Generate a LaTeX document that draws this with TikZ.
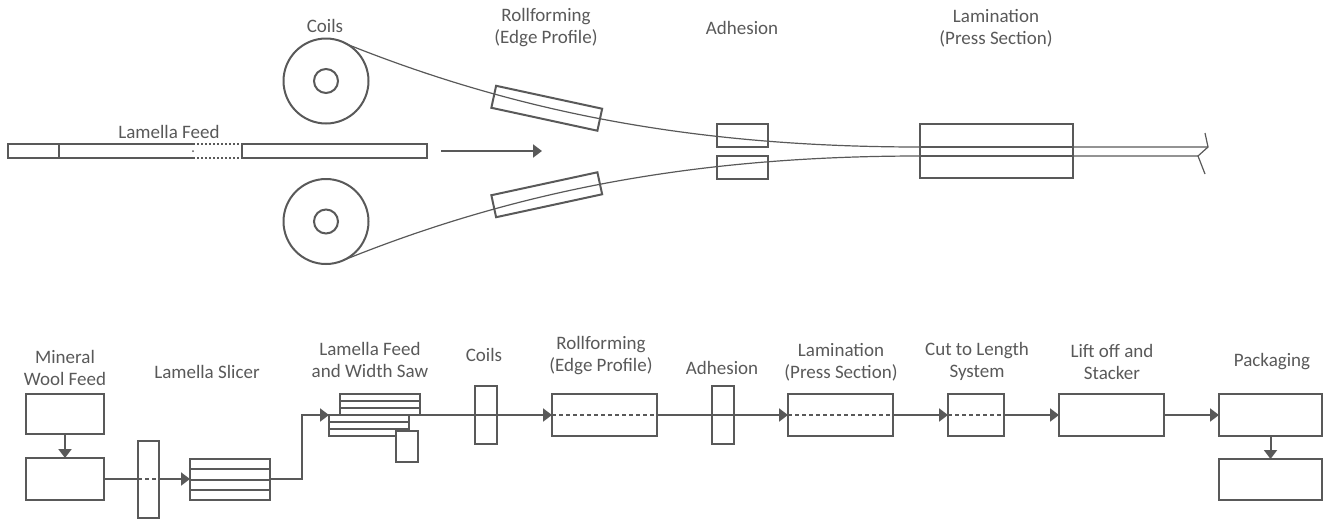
\documentclass[tikz,border=0pt]{standalone}
\usepackage{fontspec}
\setmainfont{Carlito}
\usetikzlibrary{arrows.meta,calc}
\definecolor{ink}{RGB}{89,89,89}
\begin{document}
\begin{tikzpicture}[x=1pt,y=-1pt,
  every node/.style={inner sep=0pt, outer sep=0pt},
  box/.style={draw=ink, line width=2pt, rectangle},
  lbl/.style={text=ink, font=\fontsize{19}{22}\selectfont, align=center},
  wire/.style={draw=ink, line width=2pt},
  strip/.style={draw=ink, line width=1.2pt},
  flow/.style={wire, -{Triangle[length=9pt,width=13pt]}},
  cutline/.style={draw=ink, line width=2pt, dash pattern=on 4pt off 3pt},
]
\useasboundingbox (0,0) rectangle (1324,520);

% ---------------- upper view: lamella feed between two coils ----------------
% coils
\node[circle, draw=ink, line width=2pt, minimum size=85pt] (coilA) at (326,81) {};
\node[circle, draw=ink, line width=2pt, minimum size=24pt] (hubA) at (326,81) {};
\node[circle, draw=ink, line width=2pt, minimum size=85pt] (coilB) at (326,221.5) {};
\node[circle, draw=ink, line width=2pt, minimum size=24pt] (hubB) at (326,221.5) {};
\node[lbl] (tCoils) at (325,26) {Coils};

% lamella feed bar
\draw[wire] (193,144) -- (8,144) -- (8,158) -- (193,158);
\draw[wire] (59,144) -- (59,158);
\draw[wire] (242,144) -- (427,144) -- (427,158) -- (242,158) -- cycle;
\draw[draw=ink, line width=1.2pt, dash pattern=on 2pt off 2pt] (193,144) -- (242,144) (193,158) -- (242,158);
\fill[ink] (193,151) circle (1pt);
\node[lbl] (tFeed) at (169,132) {Lamella Feed};

% feed direction
\coordinate (feedA) at (441,151);
\coordinate (feedB) at (542,151);
\draw[flow] (feedA) -- (feedB);

% sheet strips coming off the coils
\coordinate (stripA0) at (344,43);
\coordinate (stripB0) at (344,260);
\coordinate (stripA1) at (920,147);
\coordinate (stripB1) at (920,156);
\coordinate (stripA2) at (1208,147);
\coordinate (stripB2) at (1198,156);
\draw[strip] (stripA0) .. controls (520,114) and (700,147) .. (stripA1) -- (stripA2);
\draw[strip] (stripB0) .. controls (520,189) and (700,156) .. (stripB1) -- (stripB2);
\draw[strip] (1205,133) -- (stripA2) -- (stripB2) -- (1205,174);

% rollforming stations on the strips
\node[box, minimum width=108.5pt, minimum height=22.5pt, rotate=-12.2] (rfA) at (546.75,108.25) {};
\node[box, minimum width=108.5pt, minimum height=22.5pt, rotate=12.2] (rfB) at (546.75,194.75) {};
\node[lbl] (tRf) at (546,28) {Rollforming\\(Edge Profile)};

% adhesion
\node[box, minimum width=51pt, minimum height=23pt] (adA) at (742.5,135.5) {};
\node[box, minimum width=51pt, minimum height=23pt] (adB) at (742.5,167.5) {};
\node[lbl] (tAd) at (742,28) {Adhesion};

% lamination press
\node[box, minimum width=153pt, minimum height=54pt] (lam) at (996.5,151) {};
\draw[wire] (stripA1) -- (lam.east |- stripA1);
\draw[wire] (stripB1) -- (lam.east |- stripB1);
\node[lbl] (tLam) at (996,28) {Lamination\\(Press Section)};

% ---------------- lower view: process line ----------------
% mineral wool feed
\node[box, minimum width=78.6pt, minimum height=40pt] (mw1) at (65,414) {};
\node[box, minimum width=78.6pt, minimum height=42pt] (mw2) at (65,479) {};
\draw[flow] (mw1.south) -- (mw2.north);
\node[lbl] (tMw) at (65,367.5) {Mineral\\Wool Feed};

% lamella slicer
\node[box, minimum width=21pt, minimum height=77pt] (blade) at (148.5,479.5) {};
\node[box, minimum width=80pt, minimum height=41pt] (slc) at (230,479.5) {};
\foreach \f in {0.25,0.5,0.75}
  \draw[wire] ($(slc.north west)!\f!(slc.south west)$) -- ($(slc.north east)!\f!(slc.south east)$);
\draw[wire] (mw2.east) -- (blade.west |- mw2.east);
\draw[cutline] (blade.west |- mw2.east) -- (blade.east |- mw2.east);
\draw[flow] (blade.east |- mw2.east) -- (slc.west |- mw2.east);
\node[lbl] (tSlc) at (207,372) {Lamella Slicer};

% lamella feed and width saw
\node[box, minimum width=80pt, minimum height=21pt] (fdA) at (380,404.5) {};
\node[box, minimum width=80pt, minimum height=21pt] (fdB) at (369,425.5) {};
\foreach \f in {0.333,0.667} {
  \draw[wire] ($(fdA.north west)!\f!(fdA.south west)$) -- ($(fdA.north east)!\f!(fdA.south east)$);
  \draw[wire] ($(fdB.north west)!\f!(fdB.south west)$) -- ($(fdB.north east)!\f!(fdB.south east)$);
}
\node[box, fill=white, minimum width=22pt, minimum height=31pt] (saw) at (407,446.5) {};
\coordinate (elbow) at (302,479);
\draw[flow] (slc.east |- elbow) -- (elbow) |- (fdB.north west);
\node[lbl] (tFd) at (370,359.5) {Lamella Feed\\and Width Saw};

% coils
\node[box, minimum width=22pt, minimum height=58pt] (coilC) at (486,415) {};
\node[lbl] (tCoilC) at (484,355) {Coils};

% rollforming
\node[box, minimum width=105pt, minimum height=42pt] (rf) at (604.5,415) {};
\draw[cutline] (rf.west) -- (rf.east);
\draw[flow] (fdA.south east) -- (rf.west);
\node[lbl] (tRf2) at (601,356) {Rollforming\\(Edge Profile)};

% adhesion
\node[box, minimum width=22pt, minimum height=58pt] (ad) at (723,415) {};
\node[lbl] (tAd2) at (722,368) {Adhesion};

% lamination
\node[box, minimum width=105pt, minimum height=42pt] (lm) at (840.5,415) {};
\draw[cutline] (lm.west) -- (lm.east);
\draw[flow] (rf.east) -- (lm.west);
\node[lbl] (tLm) at (841,362) {Lamination\\(Press Section)};

% cut to length
\node[box, minimum width=56pt, minimum height=42pt] (cut) at (976,415) {};
\draw[cutline] (cut.west) -- (cut.east);
\draw[flow] (lm.east) -- (cut.west);
\node[lbl] (tCut) at (977,361.5) {Cut to Length\\System};

% lift off and stacker
\node[box, minimum width=105pt, minimum height=42pt] (lift) at (1111.5,415) {};
\draw[flow] (cut.east) -- (lift.west);
\node[lbl] (tLift) at (1112,361.5) {Lift off and\\Stacker};

% packaging
\node[box, minimum width=103pt, minimum height=42pt] (pk1) at (1270.5,415) {};
\node[box, minimum width=103pt, minimum height=41pt] (pk2) at (1270.5,479.5) {};
\draw[flow] (lift.east) -- (pk1.west);
\draw[flow] (pk1.south) -- (pk2.north);
\node[lbl] (tPk) at (1272,362) {Packaging};
\end{tikzpicture}
\end{document}
